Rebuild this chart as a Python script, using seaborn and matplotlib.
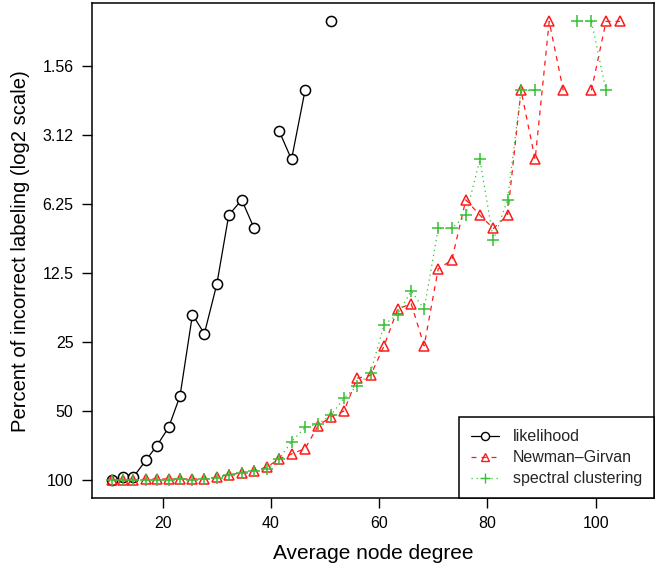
import numpy as np
import pandas as pd
import matplotlib
matplotlib.use("Agg")
import matplotlib.pyplot as plt
import seaborn as sns
from matplotlib.lines import Line2D

# ---- data ----
degree = [10.7, 12.6, 14.6, 16.9, 18.9, 21.1, 23.2, 25.5, 27.7, 30.0,
          32.2, 34.6, 36.9, 39.2, 41.5, 43.8, 46.3, 48.7, 51.1, 53.5,
          55.9, 58.4, 60.9, 63.4, 65.9, 68.3, 70.9, 73.4, 76.0, 78.6,
          81.1, 83.7, 86.2, 88.8, 91.4, 94.0, 96.5, 99.2, 101.9, 104.5]

nan = np.nan
likelihood = [100, 97, 97, 82, 71, 59, 43, 19, 23, 14,
              7, 6, 8, nan, 3, 4, 2, nan, 1, nan,
              nan, nan, nan, nan, nan, nan, nan, nan, nan, nan,
              nan, nan, nan, nan, nan, nan, nan, nan, nan, nan]

newman_girvan = [100, 100, 100, 99, 99, 99, 99, 99, 99, 97,
                 95, 93, 91, 88, 81, 77, 73, 58, 53, 50,
                 36, 35, 26, 18, 17, 26, 12, 11, 6, 7,
                 8, 7, 2, 4, 1, 2, nan, 2, 1, 1]

spectral = [100, 100, 100, 100, 100, 100, 99, 100, 99, 98,
            95, 93, 91, 90, 81, 68, 59, 57, 52, 44,
            39, 34, 21, 19, 15, 18, 8, 8, 7, 4,
            9, 6, 2, 2, nan, nan, 1, 1, 2, nan]

series_names = ["likelihood", "Newman\u2013Girvan", "spectral clustering"]
ytick_values = [100, 50, 25, 12.5, 6.25, 3.125, 1.5625]
ytick_labels = ["100", "50", "25", "12.5", "6.25", "3.12", "1.56"]
xtick_values = [20, 40, 60, 80, 100]

sns.set_theme(style="ticks")
plt.rcParams["font.family"] = ["Liberation Sans", "DejaVu Sans"]

fig = plt.figure(figsize=(6.59, 5.71), dpi=100)
ax = fig.add_axes([0.1391, 0.1273, 0.8533, 0.8669])


def segments(vals):
    seg = []
    s = 0
    prev_nan = True
    for v in vals:
        if np.isnan(v):
            prev_nan = True
            seg.append(-1)
        else:
            if prev_nan:
                s += 1
            prev_nan = False
            seg.append(s)
    return seg


styles = [
    dict(color="black", marker="o", ls="-", mfc="white", ms=7.3, mew=1.1, dashes=None),
    dict(color="#FF1A1A", marker="^", ls="--", mfc="none", ms=7.3, mew=1.1, dashes=(4, 4)),
    dict(color="#35C035", marker="+", ls=":", mfc="none", ms=9, mew=1.1, dashes=(1, 3)),
]

for name, vals, st in zip(series_names, [likelihood, newman_girvan, spectral], styles):
    df = pd.DataFrame({"x": degree, "y": vals, "seg": segments(vals)})
    df = df[df["seg"] >= 0]
    kw = dict(marker=st["marker"], markerfacecolor=st["mfc"], markeredgecolor=st["color"],
              markersize=st["ms"], markeredgewidth=st["mew"], linewidth=0.9)
    if st["dashes"] is not None:
        kw["dashes"] = st["dashes"]
    sns.lineplot(data=df, x="x", y="y", units="seg", estimator=None, color=st["color"],
                 ax=ax, legend=False, sort=False, **kw)

ax.set_yscale("log", base=2)
ax.set_ylim(120.2, 0.834)
ax.set_xlim(6.88, 110.76)
ax.set_yticks(ytick_values)
ax.set_yticklabels(ytick_labels)
ax.minorticks_off()
ax.set_xticks(xtick_values)
ax.set_xticklabels([str(v) for v in xtick_values])

ax.tick_params(axis="both", direction="out", length=7, width=1, color="black",
               labelsize=11.5, labelcolor="black", pad=6)
for sp in ax.spines.values():
    sp.set_visible(True)
    sp.set_color("black")
    sp.set_linewidth(1.1)

ax.set_xlabel("Average node degree", fontsize=15, color="black", labelpad=9)
ax.set_ylabel("Percent of incorrect labeling (log2 scale)", fontsize=14.6, color="black", labelpad=9)

handles = []
for name, st in zip(series_names, styles):
    h = Line2D([0], [0], color=st["color"], marker=st["marker"], markerfacecolor=st["mfc"],
               markeredgecolor=st["color"], markersize=st["ms"] * 0.8, markeredgewidth=1.0,
               linewidth=0.9)
    if st["dashes"] is not None:
        h.set_dashes(st["dashes"])
    handles.append(h)

leg = ax.legend(handles, series_names, loc="lower right", frameon=True, fancybox=False,
                framealpha=1, edgecolor="black", borderaxespad=0, fontsize=11.5,
                handlelength=1.75, handletextpad=0.85, borderpad=0.75, labelspacing=0.38)
leg.get_frame().set_linewidth(1.1)

fig.savefig("out.png", dpi=100)
